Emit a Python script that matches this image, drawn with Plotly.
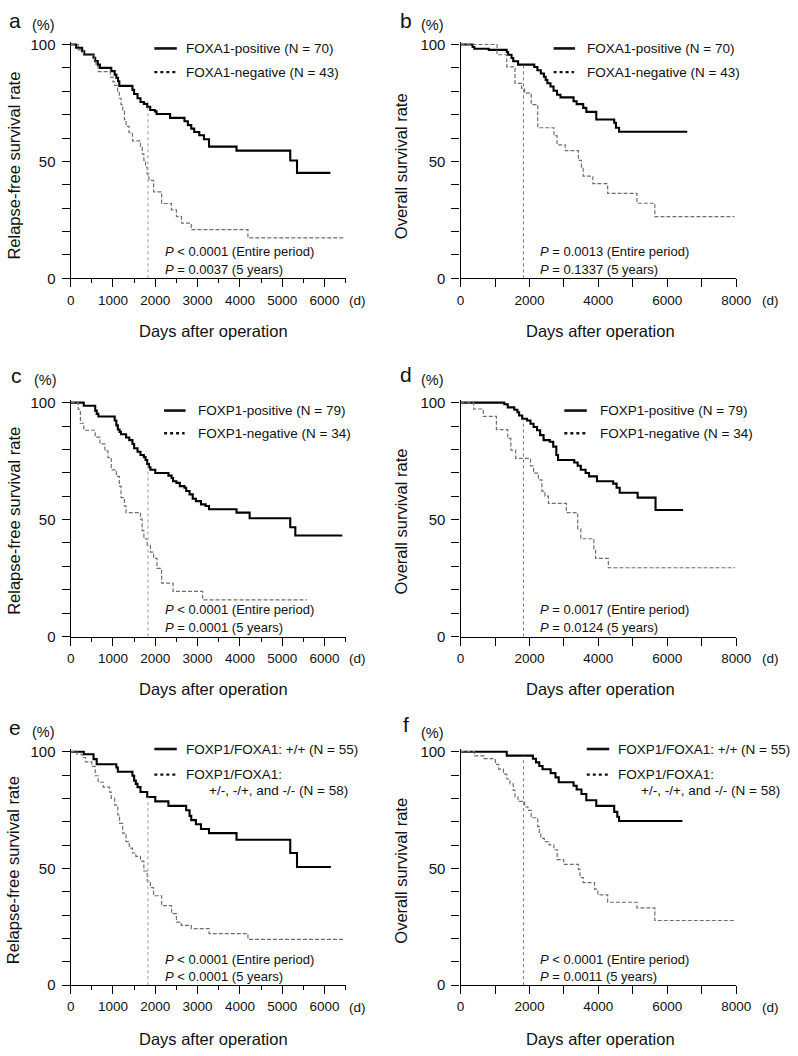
import plotly.graph_objects as go

# ---------------- data (days, survival %) ----------------
# Panel a: FOXA1, relapse-free survival
a_pos_t = [0,130,270,320,540,580,640,690,960,1040,1080,1120,1150,1460,1500,1580,1650,1730,1810,1880,1990,2030,2350,2690,2770,2850,2920,3040,3150,3270,3920,5190,5350,6140]
a_pos_s = [100,98.6,97.1,95.7,94.3,92.9,91.4,90.0,88.6,87.1,85.7,84.3,82.3,80.6,78.8,77.0,75.4,74.6,73.3,72.0,71.4,70.3,68.6,67.2,65.5,64.0,62.6,61.2,59.5,56.3,54.6,50.4,45.1,45.1]
a_neg_t = [0,180,300,560,600,650,940,1000,1040,1110,1150,1190,1230,1270,1310,1380,1460,1650,1690,1730,1770,1810,1850,1960,2150,2380,2500,2620,2850,4190,6460]
a_neg_s = [100,97.7,95.3,93.0,90.7,88.4,86.0,84.0,82.5,80.0,77.0,74.3,71.4,67.9,65.0,62.3,58.8,56.0,53.2,50.4,47.5,44.7,41.9,37.0,32.0,29.3,26.4,23.6,20.8,17.3,17.3]

# Panel b: FOXA1, overall survival
b_pos_t = [0,350,400,820,1340,1380,1480,1530,1670,2140,2230,2330,2420,2470,2520,2610,2700,2800,2900,3280,3370,3560,3650,3940,4460,4510,4600,6580]
b_pos_s = [100,98.9,98.2,97.7,96.8,95.6,94.2,92.8,91.4,90.4,89.0,87.6,86.2,84.8,83.4,82.0,80.2,78.5,77.4,75.7,74.5,72.9,71.2,67.9,66.5,64.4,62.7,62.7]
b_neg_t = [0,1060,1340,1580,1770,1860,2050,2240,2710,2800,3040,3420,3510,3560,3840,4270,5120,5640,7950]
b_neg_s = [100,95.6,90.4,83.4,81.3,79.2,74.3,64.4,61.0,57.1,54.6,50.4,47.5,43.7,40.5,36.3,32.1,26.4,26.4]

# Panel c: FOXP1, relapse-free survival
c_pos_t = [0,310,580,615,655,1040,1080,1115,1155,1190,1310,1385,1460,1500,1580,1650,1730,1770,1810,1850,1885,2000,2310,2385,2420,2500,2580,2690,2730,2810,2885,2960,3080,3190,3270,3920,4230,5190,5310,6420]
c_pos_s = [100,98.7,96.6,95.2,94.1,92.4,90.3,88.5,87.5,86.5,85.1,84.0,82.3,80.5,79.0,77.6,76.7,75.5,73.8,72.4,71.3,69.9,68.8,67.8,66.4,65.7,64.3,63.6,62.2,60.8,58.9,57.9,56.5,55.8,54.4,53.0,50.6,46.7,43.2,43.2]
c_neg_t = [0,180,230,310,580,690,810,880,960,1080,1150,1190,1270,1310,1650,1690,1730,1810,1885,1960,2040,2150,2420,3120,5580]
c_neg_s = [100,97.1,91.2,88.2,85.3,82.4,79.4,76.5,71.3,68.5,64.3,59.4,55.8,53.0,50.2,45.3,41.8,39.0,36.1,33.4,29.1,22.8,19.3,15.7,15.7]

# Panel d: FOXP1, overall survival
d_pos_t = [0,1270,1370,1560,1650,1700,1790,1930,2030,2120,2220,2310,2410,2590,2690,2780,2830,3300,3400,3490,3630,3730,3960,4430,4530,4620,5140,5660,6460]
d_pos_s = [100,99.3,98.0,97.0,95.9,94.5,93.1,92.4,91.0,89.6,88.2,86.1,84.0,83.3,81.2,77.6,75.5,74.4,73.0,71.3,69.9,68.5,66.4,65.4,63.6,61.5,59.4,54.1,54.1]
d_neg_t = [0,380,660,1040,1370,1460,1600,2030,2120,2260,2360,2450,2550,3070,3400,3490,3870,3920,4290,7970]
d_neg_s = [100,97.3,94.1,88.5,84.7,79.7,76.2,73.0,69.9,67.0,62.2,60.0,56.9,53.0,46.0,41.8,37.6,33.4,29.4,29.4]

# Panel e: FOXP1/FOXA1, relapse-free survival
e_pos_t = [0,310,540,615,1080,1115,1460,1500,1540,1580,1650,1810,2000,2310,2730,2810,2850,2960,3080,3270,3920,5190,5350,6150]
e_pos_s = [100,98.9,96.8,94.6,93.2,91.4,89.7,87.6,86.2,84.8,82.7,80.6,78.7,76.8,74.9,72.5,70.7,68.9,66.9,65.1,62.3,56.6,50.6,50.6]
e_neg_t = [0,150,270,350,500,580,650,770,920,960,1040,1115,1155,1230,1310,1385,1460,1540,1650,1730,1810,1885,1960,2150,2385,2500,2615,2850,3270,4190,6460]
e_neg_s = [100,98.9,97.5,95.6,93.7,89.7,86.9,84.8,82.7,80.0,77.1,72.9,69.3,65.1,61.5,58.7,56.6,55.2,53.1,48.9,44.6,41.8,38.3,34.1,30.6,27.0,25.6,24.2,22.1,19.6,19.6]

# Panel f: FOXP1/FOXA1, overall survival
f_pos_t = [0,1340,2100,2190,2285,2380,2615,2755,2850,3280,3370,3510,3650,3940,4460,4550,4600,6440]
f_pos_s = [100,98.3,97.0,95.4,93.9,92.5,90.8,89.0,86.9,85.4,83.8,81.9,79.2,76.8,74.2,72.1,70.3,70.3]
f_neg_t = [0,400,680,1010,1105,1245,1340,1435,1530,1580,1670,1860,1955,2050,2240,2285,2330,2430,2570,2710,2805,2995,3420,3465,3560,3890,3985,4270,5120,5640,7950]
f_neg_s = [100,98.2,97.0,94.6,92.5,90.4,88.3,86.2,83.4,80.6,78.7,76.3,74.9,71.7,67.9,65.1,62.9,61.5,60.1,58.0,53.8,51.7,49.6,46.1,43.9,41.1,38.7,35.5,33.1,27.7,27.7]

panel_letters = ["a", "b", "c", "d", "e", "f"]
y_titles = ["Relapse-free survival rate", "Overall survival rate"] * 3
legend_pos = ["FOXA1-positive (N = 70)", "FOXA1-positive (N = 70)",
              "FOXP1-positive (N = 79)", "FOXP1-positive (N = 79)",
              "FOXP1/FOXA1: +/+ (N = 55)", "FOXP1/FOXA1: +/+ (N = 55)"]
legend_neg = ["FOXA1-negative (N = 43)", "FOXA1-negative (N = 43)",
              "FOXP1-negative (N = 34)", "FOXP1-negative (N = 34)",
              "FOXP1/FOXA1:", "FOXP1/FOXA1:"]
legend_neg2 = [None, None, None, None,
               "+/-, -/+, and -/- (N = 58)", "+/-, -/+, and -/- (N = 58)"]
p_entire = ["&lt; 0.0001", "= 0.0013", "&lt; 0.0001", "= 0.0017", "&lt; 0.0001", "&lt; 0.0001"]
p_5y = ["= 0.0037", "= 0.1337", "= 0.0001", "= 0.0124", "&lt; 0.0001", "= 0.0011"]
x_tick_left = [0, 1000, 2000, 3000, 4000, 5000, 6000]
x_tick_right = [0, 2000, 4000, 6000, 8000]
y_ticks = [0, 50, 100]
FIVE_YEARS = 1826

pos_t = [a_pos_t, b_pos_t, c_pos_t, d_pos_t, e_pos_t, f_pos_t]
pos_s = [a_pos_s, b_pos_s, c_pos_s, d_pos_s, e_pos_s, f_pos_s]
neg_t = [a_neg_t, b_neg_t, c_neg_t, d_neg_t, e_neg_t, f_neg_t]
neg_s = [a_neg_s, b_neg_s, c_neg_s, d_neg_s, e_neg_s, f_neg_s]

# ---------------- layout geometry (pixels) ----------------
W, H = 798, 1056
FONT = "Liberation Sans, Arial, Helvetica, sans-serif"
col_x0 = [68.3, 467.7]          # pixel of x = 0
col_xend = [350.0, 750.0]       # pixel of x = max
col_xmax = [6500, 8000]
d_offset = [12, 35]             # "(d)" unit label offset from axis end
row_top = [39.0, 402.0, 755.7]  # pixel of y = 100
row_bot = [276.0, 639.0, 992.3] # pixel of y = 0
YMAX = 101


def fx(p):
    return p / W


def fy(p):
    return 1 - p / H


def surv_at(ts, ss, x):
    v = ss[0]
    for t, s in zip(ts, ss):
        if t <= x:
            v = s
    return v


fig = go.Figure()
annotations = []
shapes = []


def ann(x, y, text, size, xanchor="left", yanchor="middle", angle=0):
    annotations.append(dict(x=fx(x), y=fy(y), xref="paper", yref="paper", text=text,
                            showarrow=False, xanchor=xanchor, yanchor=yanchor,
                            textangle=angle, font=dict(family=FONT, size=size, color="#111")))


def sample(x1, x2, y, dash, width):
    shapes.append(dict(type="line", xref="paper", yref="paper", x0=fx(x1), x1=fx(x2),
                       y0=fy(y), y1=fy(y), line=dict(color="#111", width=width, dash=dash)))


# per-panel text positions (pixels)
letter_xy = [(11.7, 15), (411.7, 15), (13, 374), (411.7, 373), (11.7, 731), (411.7, 728)]
pct_xy = [(40.7, 19), (439, 19), (43, 379), (439, 379), (40.7, 736), (439, 737)]
leg_sample_x = [(154, 177), (563, 585), (164, 186), (574, 597), (154, 177), (597, 620)]
leg_text_x = [184, 595, 196.7, 608, 184, 626.7]
leg_rows = [(43, 67), (43, 67), (410, 433), (410, 433), (753, 779), (753, 779)]
leg_row3 = [None, None, None, None, (354, 795), (796.7, 795)]
p_x = [163.3, 546.7, 163.3, 546.7, 163.3, 546.7]
p_rows = [(248.3, 266.7), (248.3, 266.7), (611.7, 630), (611.7, 630), (966, 983.3), (966, 983.3)]
ytitle_xy = [(10, 162), (407, 162), (10, 522), (407, 522), (10, 876), (407, 876)]
xtitle_xy = [(214.7, 329), (610.8, 329), (214.7, 692), (610.8, 692), (214.7, 1047), (610.8, 1047)]

layout_axes = {}
for i in range(6):
    r, c = divmod(i, 2)
    ax = "" if i == 0 else str(i + 1)
    xa, ya = "x" + ax, "y" + ax
    unit = (row_bot[r] - row_top[r]) / 100.0
    top_px = row_top[r] - (YMAX - 100) * unit

    # curves
    fig.add_trace(go.Scatter(x=pos_t[i], y=pos_s[i], mode="lines", line_shape="hv",
                             line=dict(color="#000", width=2.1), xaxis=xa, yaxis=ya,
                             showlegend=False, hoverinfo="skip"))
    fig.add_trace(go.Scatter(x=neg_t[i], y=neg_s[i], mode="lines", line_shape="hv",
                             line=dict(color="#6e6e6e", width=1.2, dash="4px,2px"),
                             xaxis=xa, yaxis=ya, showlegend=False, hoverinfo="skip"))
    vtop = surv_at(pos_t[i], pos_s[i], FIVE_YEARS)
    fig.add_trace(go.Scatter(x=[FIVE_YEARS, FIVE_YEARS], y=[0, vtop], mode="lines",
                             line=dict(color="#aaaaaa" if c == 0 else "#666666",
                                       width=1.2 if c == 0 else 0.9, dash="dot"),
                             xaxis=xa, yaxis=ya, showlegend=False, hoverinfo="skip"))

    xt = x_tick_left if c == 0 else x_tick_right
    layout_axes["xaxis" + ax] = dict(
        domain=[fx(col_x0[c]), fx(col_xend[c])], range=[0, col_xmax[c]], anchor=ya,
        showline=True, linecolor="#000", linewidth=1.3, showgrid=False, zeroline=False,
        ticks="outside", ticklen=8, tickwidth=1.2, tickcolor="#000",
        tickmode="array", tickvals=xt, ticktext=[str(v) for v in xt],
        minor=dict(dtick=500 if c == 0 else 1000, tick0=0, ticks="outside",
                   ticklen=4 if c == 0 else 8, tickwidth=1.2, tickcolor="#000", showgrid=False),
        tickfont=dict(family=FONT, size=13.5, color="#111"), ticklabelstandoff=1,
        fixedrange=True)
    layout_axes["yaxis" + ax] = dict(
        domain=[fy(row_bot[r]), fy(top_px)], range=[0, YMAX], anchor=xa,
        showline=True, linecolor="#000", linewidth=1.3, showgrid=False, zeroline=False,
        ticks="outside", ticklen=8, tickwidth=1.2, tickcolor="#000",
        tickmode="array", tickvals=y_ticks, ticktext=[str(v) for v in y_ticks],
        minor=dict(dtick=10, tick0=0, ticks="outside", ticklen=8, tickwidth=1.2,
                   tickcolor="#000", showgrid=False),
        tickfont=dict(family=FONT, size=15, color="#111"), ticklabelstandoff=3,
        fixedrange=True)

    # texts
    ann(*letter_xy[i], panel_letters[i], 21, xanchor="center")
    ann(*pct_xy[i], "(%)", 14.5, xanchor="center")
    ann(*ytitle_xy[i], y_titles[i], 16.5, xanchor="center", angle=-90)
    ann(*xtitle_xy[i], "Days after operation", 16.5, xanchor="center")
    ann(col_xend[c] + d_offset[c], row_bot[r] + 22.5, "(d)", 13.5, xanchor="center")

    # legend
    sx1, sx2 = leg_sample_x[i]
    y1, y2 = leg_rows[i]
    sample(sx1, sx2, y1, "solid", 2.6)
    sample(sx1, sx2 - 1, y2, "dot", 2.4)
    ann(leg_text_x[i], y1, legend_pos[i], 13.5)
    ann(leg_text_x[i], y2, legend_neg[i], 13.5)
    if legend_neg2[i]:
        rx, ry = leg_row3[i]
        ann(rx, ry, legend_neg2[i], 13.5, xanchor="right")

    # p-values
    ann(p_x[i], p_rows[i][0], "<i>P</i> " + p_entire[i] + " (Entire period)", 13)
    ann(p_x[i], p_rows[i][1], "<i>P</i> " + p_5y[i] + " (5 years)", 13)

fig.update_layout(
    width=W, height=H, margin=dict(l=0, r=0, t=0, b=0),
    paper_bgcolor="white", plot_bgcolor="white",
    annotations=annotations, shapes=shapes, showlegend=False,
    font=dict(family=FONT, color="#111"),
    **layout_axes,
)

fig.write_html("out.html", config={"displayModeBar": False},
               post_script="document.body.style.margin='0px';document.body.style.padding='0px';")
